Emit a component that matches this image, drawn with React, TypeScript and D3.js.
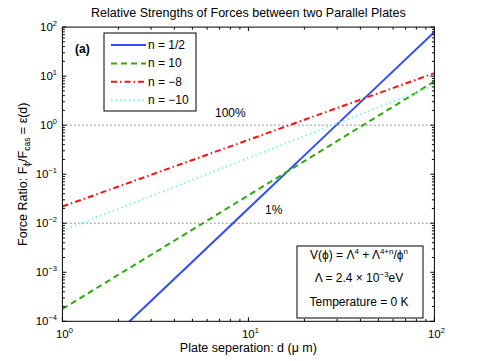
import React from 'react'
import * as d3 from 'd3'

// plate separation d (um) and force ratio per potential exponent n
const separation = [1, 2, 5, 10, 20, 50, 100]
const nHalf = [5.0e-6, 6.1e-5, 1.64e-3, 0.02, 0.242, 6.55, 79.4]
const nTen = [1.78e-4, 8.9e-4, 7.4e-3, 0.037, 0.185, 1.56, 7.8]
const nMinus8 = [0.0219, 0.056, 0.195, 0.5, 1.29, 4.48, 11.5]
const nMinus10 = [7.1e-3, 0.0197, 0.0766, 0.214, 0.596, 2.32, 6.46]
const seriesNames = ['n = 1/2', 'n = 10', 'n = \u22128', 'n = \u221210']

const xDecades = [0, 1, 2]
const yDecades = [-4, -3, -2, -1, 0, 1, 2]
const refValues = [1, 0.01]
const refLabels = ['100%', '1%']

const font = 'Liberation Sans, Arial, Helvetica, sans-serif'
const PHI = '\u03d5'

function expLabel(k: number) {
  return k < 0 ? '\u2212' + Math.abs(k) : String(k)
}

export default function App() {
  const W = 480
  const H = 361
  const left = 62.4
  const right = 434.4
  const top = 27.1
  const bottom = 321.3

  const x = d3.scaleLog().domain([1, 100]).range([left, right])
  const y = d3.scaleLog().domain([1e-4, 100]).range([bottom, top])

  const line = d3
    .line<number>()
    .x((_, i) => x(separation[i]))
    .y(d => y(d))

  const series = [
    { values: nHalf, color: '#2f4cff', dash: undefined, width: 2 },
    { values: nTen, color: '#2cab0c', dash: '6 4', width: 2 },
    { values: nMinus8, color: '#ff1010', dash: '6 3 1.5 3', width: 2 },
    { values: nMinus10, color: '#86f5dc', dash: '1.5 3', width: 2 },
  ]

  const minor = (decs: number[], lo: number, hi: number) => {
    const out: number[] = []
    decs.forEach(k => {
      for (let m = 2; m <= 9; m++) {
        const v = m * Math.pow(10, k)
        if (v > lo && v < hi) out.push(v)
      }
    })
    return out
  }
  const xMinor = minor(xDecades, 1, 100)
  const yMinor = minor(yDecades, 1e-4, 100)
  const major = 4
  const small = 2.5
  const fs = 12

  return (
    <svg
      width={W}
      height={H}
      style={{ position: 'absolute', left: 0, top: 0, background: '#fff' }}
      fontFamily={font}
    >
      <defs>
        <clipPath id="plot">
          <rect x={left} y={top} width={right - left} height={bottom - top} />
        </clipPath>
      </defs>
      <rect x={0} y={0} width={W} height={H} fill="#fff" />

      {/* reference lines */}
      {refValues.map(v => (
        <line
          key={v}
          x1={left}
          x2={right}
          y1={y(v)}
          y2={y(v)}
          stroke="#333"
          strokeWidth={1}
          strokeDasharray="1 3"
        />
      ))}
      <text x={215} y={117} fontSize={fs}>{refLabels[0]}</text>
      <text x={265} y={214} fontSize={fs}>{refLabels[1]}</text>

      <g clipPath="url(#plot)">
        {series.map((s, i) => (
          <path
            key={i}
            d={line(s.values) || ''}
            fill="none"
            stroke={s.color}
            strokeWidth={s.width}
            strokeDasharray={s.dash}
          />
        ))}
      </g>

      {/* axes box and ticks */}
      <rect x={left} y={top} width={right - left} height={bottom - top} fill="none" stroke="#000" strokeWidth={1} />
      {xDecades.map(k => {
        const px = x(Math.pow(10, k))
        return (
          <g key={'xm' + k} stroke="#000">
            <line x1={px} x2={px} y1={bottom} y2={bottom - major} />
            <line x1={px} x2={px} y1={top} y2={top + major} />
          </g>
        )
      })}
      {xMinor.map(v => (
        <g key={'xn' + v} stroke="#000">
          <line x1={x(v)} x2={x(v)} y1={bottom} y2={bottom - small} />
          <line x1={x(v)} x2={x(v)} y1={top} y2={top + small} />
        </g>
      ))}
      {yDecades.map(k => {
        const py = y(Math.pow(10, k))
        return (
          <g key={'ym' + k} stroke="#000">
            <line x1={left} x2={left + major} y1={py} y2={py} />
            <line x1={right} x2={right - major} y1={py} y2={py} />
          </g>
        )
      })}
      {yMinor.map(v => (
        <g key={'yn' + v} stroke="#000">
          <line x1={left} x2={left + small} y1={y(v)} y2={y(v)} />
          <line x1={right} x2={right - small} y1={y(v)} y2={y(v)} />
        </g>
      ))}

      {/* tick labels */}
      {xDecades.map(k => (
        <text key={'xl' + k} x={x(Math.pow(10, k)) - 6.5} y={338} fontSize={11.5}>
          10<tspan fontSize={7.5} dy={-5}>{expLabel(k)}</tspan>
        </text>
      ))}
      {yDecades.map(k => (
        <text key={'yl' + k} x={57} y={y(Math.pow(10, k)) + 4} fontSize={11.5} textAnchor="end">
          10<tspan fontSize={7.5} dy={-5}>{expLabel(k)}</tspan>
        </text>
      ))}

      {/* title and axis labels */}
      <text x={(left + right) / 2} y={17} fontSize={12.5} textAnchor="middle">
        Relative Strengths of Forces between two Parallel Plates
      </text>
      <text x={(left + right) / 2} y={352} fontSize={12.5} textAnchor="middle">
        {'Plate seperation: d (\u03bc m)'}
      </text>
      <text transform={`translate(27, ${(top + bottom) / 2}) rotate(-90)`} fontSize={12.5} textAnchor="middle">
        {'Force Ratio: F'}
        <tspan fontSize={8.5} dy={3}>{PHI}</tspan>
        <tspan dy={-3}>/F</tspan>
        <tspan fontSize={8.5} dy={3}>cas</tspan>
        <tspan dy={-3}>{' = \u03b5(d)'}</tspan>
      </text>

      <text x={75} y={53} fontSize={fs} fontWeight="bold">(a)</text>

      {/* legend */}
      <rect x={104} y={33} width={92} height={78} fill="#fff" stroke="#000" strokeWidth={1} />
      {series.map((s, i) => {
        const ly = 45 + i * 18.4
        return (
          <g key={'lg' + i}>
            <line x1={111} x2={146} y1={ly} y2={ly} stroke={s.color} strokeWidth={s.width} strokeDasharray={s.dash} />
            <text x={148} y={ly + 4} fontSize={fs}>{seriesNames[i]}</text>
          </g>
        )
      })}

      {/* annotation */}
      <rect x={297} y={246} width={126} height={72} fill="#fff" stroke="#000" strokeWidth={1} />
      <text x={359} y={259} fontSize={fs} textAnchor="middle">
        {'V(' + PHI + ') = \u039b'}
        <tspan fontSize={8} dy={-5}>4</tspan>
        <tspan dy={5}>{' + \u039b'}</tspan>
        <tspan fontSize={8} dy={-5}>4+n</tspan>
        <tspan dy={5}>{'/' + PHI}</tspan>
        <tspan fontSize={8} dy={-5}>n</tspan>
      </text>
      <text x={359} y={282} fontSize={fs} textAnchor="middle">
        {'\u039b = 2.4 \u00d7 10'}
        <tspan fontSize={8} dy={-5}>{'\u22123'}</tspan>
        <tspan dy={5}>eV</tspan>
      </text>
      <text x={359} y={306} fontSize={fs} textAnchor="middle">
        Temperature = 0 K
      </text>
    </svg>
  )
}
